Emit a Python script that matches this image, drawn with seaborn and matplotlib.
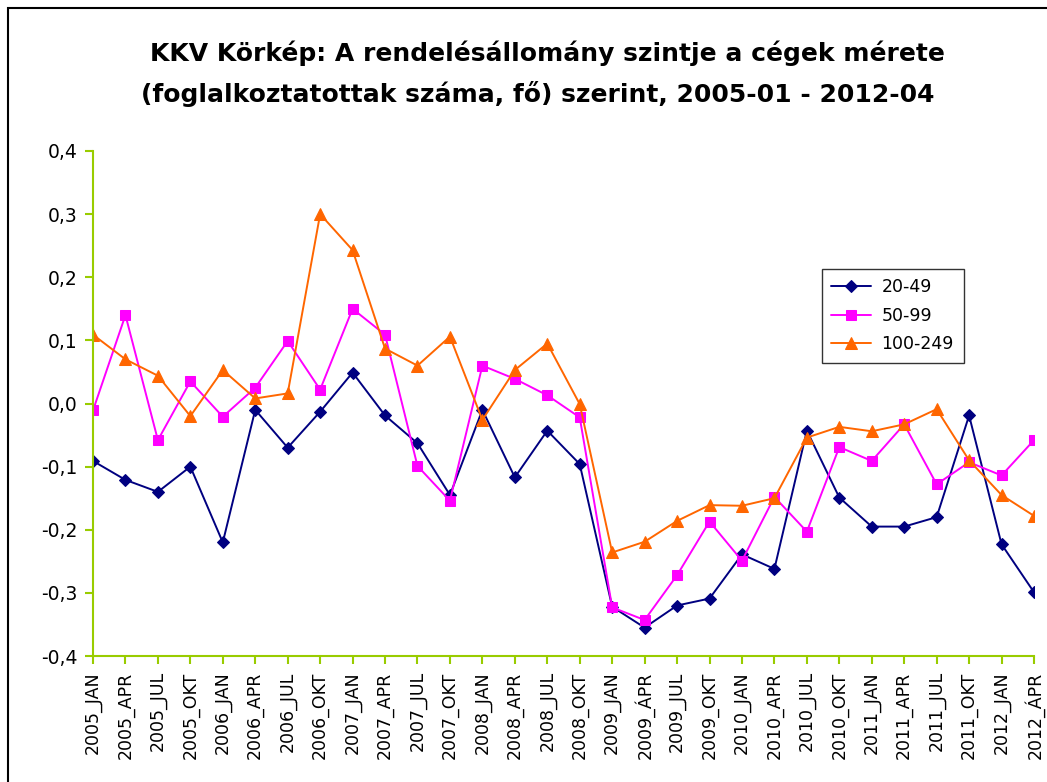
import numpy as np
import pandas as pd
import matplotlib
matplotlib.use("Agg")
import matplotlib.pyplot as plt
import seaborn as sns
from matplotlib.patches import Rectangle

categories = [
    "2005_JAN", "2005_APR", "2005_JUL", "2005_OKT",
    "2006_JAN", "2006_APR", "2006_JUL", "2006_OKT",
    "2007_JAN", "2007_APR", "2007_JUL", "2007_OKT",
    "2008_JAN", "2008_APR", "2008_JUL", "2008_OKT",
    "2009_JAN", "2009_ÁPR", "2009_JUL", "2009_OKT",
    "2010_JAN", "2010_APR", "2010_JUL", "2010_OKT",
    "2011_JAN", "2011_APR", "2011_JUL", "2011_OKT",
    "2012_JAN", "2012_ÁPR",
]

s20_49 = [-0.091, -0.121, -0.140, -0.100, -0.220, -0.010, -0.070, -0.013,
          0.049, -0.019, -0.063, -0.145, -0.010, -0.117, -0.043, -0.096,
          -0.322, -0.355, -0.320, -0.309, -0.239, -0.262, -0.043, -0.149,
          -0.195, -0.195, -0.180, -0.019, -0.223, -0.299]
s50_99 = [-0.011, 0.140, -0.058, 0.035, -0.021, 0.025, 0.099, 0.022,
          0.150, 0.109, -0.099, -0.154, 0.060, 0.039, 0.013, -0.022,
          -0.323, -0.343, -0.272, -0.187, -0.249, -0.148, -0.203, -0.069,
          -0.091, -0.033, -0.128, -0.093, -0.114, -0.058]
s100_249 = [0.109, 0.070, 0.044, -0.020, 0.053, 0.008, 0.016, 0.300,
            0.243, 0.087, 0.060, 0.106, -0.026, 0.053, 0.095, -0.001,
            -0.236, -0.219, -0.186, -0.161, -0.162, -0.150, -0.054, -0.037,
            -0.044, -0.033, -0.009, -0.090, -0.145, -0.178]

series_names = ["20-49", "50-99", "100-249"]
series_values = [s20_49, s50_99, s100_249]
colors = ["#000080", "#FF00FF", "#FF6600"]
markers = ["D", "s", "^"]
msizes = [6.5, 7.5, 9]

y_ticks = [-0.4, -0.3, -0.2, -0.1, 0.0, 0.1, 0.2, 0.3, 0.4]
y_labels = ["-0,4", "-0,3", "-0,2", "-0,1", "0,0", "0,1", "0,2", "0,3", "0,4"]

rows = []
for name, vals in zip(series_names, series_values):
    for i, v in enumerate(vals):
        rows.append({"idx": i, "cat": categories[i], "value": v, "series": name})
df = pd.DataFrame(rows)

sns.set_theme(style="white")
plt.rcParams["font.family"] = ["DejaVu Sans"]
plt.rcParams["text.color"] = "black"
plt.rcParams["xtick.color"] = "black"
plt.rcParams["ytick.color"] = "black"

fig = plt.figure(figsize=(10.47, 7.82), dpi=100)
ax = fig.add_axes([93/1047, 1 - 656/782, (1034 - 93)/1047, (656 - 151)/782])

for name, col, mk, ms in zip(series_names, colors, markers, msizes):
    sub = df[df["series"] == name]
    sns.lineplot(data=sub, x="idx", y="value", ax=ax, color=col, marker=mk,
                 markersize=ms, markeredgecolor=col, linewidth=1.4,
                 label=name, sort=False, estimator=None)

green = "#99CC00"
ax.set_xlim(0, len(categories) - 1)
ax.set_ylim(-0.4, 0.4)
ax.set_yticks(y_ticks)
ax.set_yticklabels(y_labels, fontsize=13.5, color="black")
ax.set_xticks(range(len(categories)))
ax.set_xticklabels(categories, rotation=90, fontsize=12.5, color="black")
ax.set_xlabel("")
ax.set_ylabel("")
for s in ["top", "right"]:
    ax.spines[s].set_visible(False)
for s in ["left", "bottom"]:
    ax.spines[s].set_visible(True)
    ax.spines[s].set_color(green)
    ax.spines[s].set_linewidth(1.5)
ax.tick_params(axis="both", which="major", direction="out", length=6,
               width=1.5, color=green, labelcolor="black",
               left=True, bottom=True, pad=5)
ax.grid(False)

leg = ax.legend(loc="upper left", bbox_to_anchor=((813 - 93)/941, 1 - (260 - 151)/505),
                frameon=True, fancybox=False, edgecolor="black", fontsize=12.5,
                handlelength=2.3, borderpad=0.55, labelspacing=0.6, handletextpad=0.6)
leg.get_frame().set_linewidth(1.0)
for t in leg.get_texts():
    t.set_color("black")

fig.text(547/1047, 1 - 53/782, "KKV Körkép: A rendelésállomány szintje a cégek mérete",
         ha="center", va="center", fontsize=18, fontweight="bold", color="black")
fig.text(538/1047, 1 - 94/782, "(foglalkoztatottak száma, fő) szerint, 2005-01 - 2012-04",
         ha="center", va="center", fontsize=18, fontweight="bold", color="black")

fig.patches.append(Rectangle((8/1047, -0.1), 1.2, 1.1 - 8/782,
                             transform=fig.transFigure, fill=False,
                             edgecolor="black", linewidth=1.5))

fig.savefig("out.png", dpi=100)
